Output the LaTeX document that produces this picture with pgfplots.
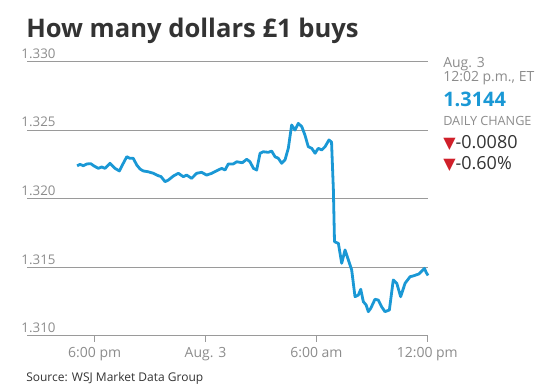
\documentclass[border=0pt]{standalone}
\usepackage{pgfplots}
\pgfplotsset{compat=1.18}
\usepackage{fontspec}
\setmainfont{Open Sans}
\newfontfamily\symfont{DejaVu Sans}
\definecolor{wsjblue}{HTML}{1A98D5}
\definecolor{gridgray}{HTML}{9A9A9A}
\definecolor{labgray}{HTML}{8C8C8C}
\definecolor{titlegray}{HTML}{333333}
\definecolor{downred}{HTML}{D0202A}
\begin{document}
\begin{tikzpicture}
\begin{scope}[x=0.75pt,y=0.75pt]
\path[use as bounding box] (0,0) rectangle (547,388);
\node[anchor=base west, inner sep=0pt, text=titlegray, font=\fontsize{19.2}{22}\selectfont\bfseries] at (26,350.5) {How many dollars £1 buys};
\node[anchor=base west, inner sep=0pt, text=titlegray, font=\fontsize{9}{11}\selectfont] at (26,6.5) {Source: WSJ Market Data Group};
\node[anchor=base west, inner sep=0pt, text=labgray, font=\fontsize{10.5}{12}\selectfont] at (443,320.7) {Aug. 3};
\node[anchor=base west, inner sep=0pt, text=labgray, font=\fontsize{10.5}{12}\selectfont] at (443,306.3) {12:02 p.m., ET};
\node[anchor=base west, inner sep=0pt, text=wsjblue, font=\fontsize{15}{17}\selectfont\bfseries] at (443,281.3) {1.3144};
\node[anchor=base west, inner sep=0pt, text=labgray, font=\fontsize{9.5}{11}\selectfont] at (443,262) {DAILY CHANGE};
\node[anchor=base west, inner sep=0pt, text=titlegray, font=\fontsize{13.5}{15}\selectfont] at (443,239.7) {\textcolor{downred}{\symfont\fontsize{12}{14}\selectfont▼}-0.0080};
\node[anchor=base west, inner sep=0pt, text=titlegray, font=\fontsize{13.5}{15}\selectfont] at (443,218) {\textcolor{downred}{\symfont\fontsize{12}{14}\selectfont▼}-0.60\%};
\end{scope}
\begin{axis}[
  at={(20.4pt,39.15pt)}, anchor=south west,
  scale only axis, width=300.6pt, height=205.7pt,
  xmin=-9.65, xmax=12.04, ymin=1.310, ymax=1.330,
  axis x line*=bottom, axis y line*=left,
  y axis line style={draw=none},
  x axis line style={draw=gridgray, line width=0.8pt, -},
  ytick={1.310,1.315,1.320,1.325,1.330},
  ymajorgrids, grid style={draw=gridgray, line width=0.6pt},
  ytick style={draw=none},
  xtick={-6,0,6,12},
  xticklabels={6:00 pm, Aug. 3, 6:00 am, 12:00 pm},
  tick align=outside, major tick length=4.5pt,
  xtick style={draw=gridgray, line width=0.8pt},
  xticklabel style={text=labgray, font=\fontsize{10.5}{12}\selectfont, yshift=-1pt},
  yticklabel style={text=labgray, font=\fontsize{10}{12}\selectfont, anchor=south west, inner sep=0pt, xshift=0pt, yshift=2pt},
  /pgf/number format/assume math mode=true,
  y tick label style={/pgf/number format/.cd, fixed, fixed zerofill, precision=3},
  clip=false,
]
\addplot[wsjblue, line width=2.1pt, line join=round] coordinates {
(-6.95,1.32240) (-6.79,1.32250) (-6.61,1.32240) (-6.43,1.32253) (-6.21,1.32255)
(-6.03,1.32238) (-5.80,1.32221) (-5.62,1.32231) (-5.44,1.32221) (-5.17,1.32258)
(-4.90,1.32221) (-4.66,1.32202) (-4.45,1.32258) (-4.26,1.32306) (-4.09,1.32294)
(-3.91,1.32294) (-3.72,1.32245) (-3.54,1.32216) (-3.37,1.32202) (-3.10,1.32196)
(-2.82,1.32185) (-2.55,1.32167) (-2.41,1.32161) (-2.19,1.32124) (-2.01,1.32136)
(-1.74,1.32165) (-1.47,1.32185) (-1.20,1.32160) (-1.02,1.32172) (-0.75,1.32148)
(-0.48,1.32185) (-0.21,1.32192) (0.06,1.32172) (0.34,1.32185) (0.61,1.32204)
(0.88,1.32221) (1.06,1.32209) (1.23,1.32253) (1.50,1.32253) (1.69,1.32269)
(1.99,1.32262) (2.23,1.32287) (2.41,1.32269) (2.59,1.32221) (2.77,1.32209)
(2.95,1.32331) (3.13,1.32342) (3.40,1.32338) (3.58,1.32347) (3.76,1.32306)
(3.94,1.32294) (4.12,1.32258) (4.30,1.32282) (4.48,1.32367) (4.66,1.32537)
(4.84,1.32500) (5.02,1.32549) (5.21,1.32525) (5.38,1.32464) (5.56,1.32379)
(5.75,1.32367) (5.93,1.32331) (6.10,1.32367) (6.29,1.32355) (6.47,1.32379)
(6.68,1.32428) (6.82,1.32413) (6.92,1.32063) (6.98,1.31686) (7.19,1.31674)
(7.37,1.31529) (7.55,1.31626) (7.73,1.31553) (7.91,1.31480) (8.09,1.31285)
(8.27,1.31297) (8.40,1.31339) (8.54,1.31249) (8.69,1.31225) (8.81,1.31176)
(8.94,1.31200) (9.17,1.31266) (9.35,1.31261) (9.53,1.31212) (9.71,1.31176)
(9.95,1.31188) (10.16,1.31407) (10.35,1.31383) (10.56,1.31285) (10.80,1.31383)
(11.07,1.31431) (11.23,1.31436) (11.55,1.31451) (11.85,1.31492) (11.93,1.31465)
(12.04,1.31440)
};
\end{axis}
\end{tikzpicture}
\end{document}
